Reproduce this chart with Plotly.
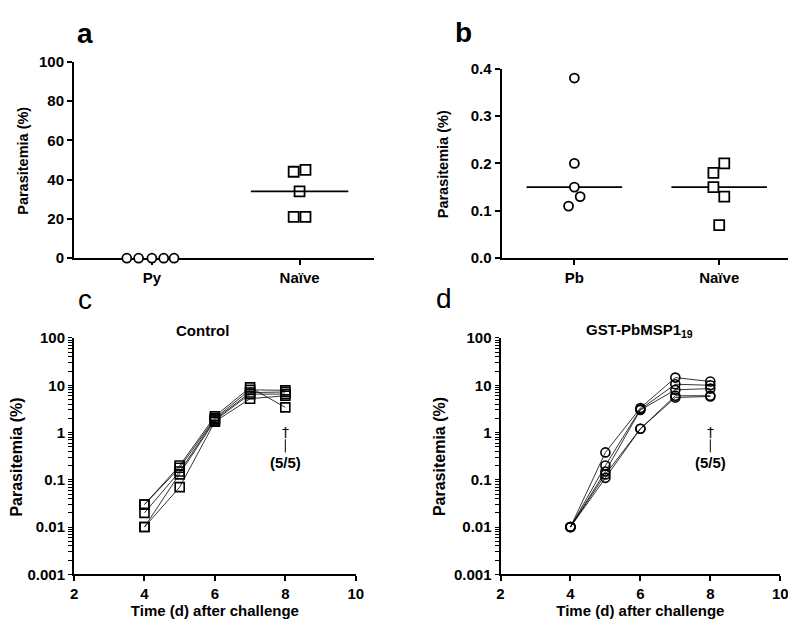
import plotly.graph_objects as go

# panel a: challenge with P. yoelii vs naive
a_groups = ["Py", "Naïve"]
a_py = [0, 0, 0, 0, 0]
a_py_jitter = [-0.17, -0.09, 0.0, 0.08, 0.15]
a_naive = [44, 45, 34, 21, 21]
a_naive_jitter = [-0.04, 0.04, 0.0, -0.04, 0.04]
a_medians = [0, 34]

# panel b: challenge with P. berghei vs naive
b_groups = ["Pb", "Naïve"]
b_pb = [0.38, 0.20, 0.15, 0.13, 0.11]
b_pb_jitter = [0.0, 0.0, 0.0, 0.04, -0.04]
b_naive = [0.20, 0.18, 0.15, 0.13, 0.07]
b_naive_jitter = [0.035, -0.04, -0.04, 0.035, 0.0]
b_medians = [0.15, 0.15]

# panels c/d: individual mice over time
days = [4, 5, 6, 7, 8]
control_mice = [
    [0.03, 0.20, 2.2, 9.0, 3.4],
    [0.03, 0.18, 2.0, 8.0, 7.8],
    [0.02, 0.15, 1.9, 7.0, 7.2],
    [0.01, 0.13, 1.8, 6.5, 6.5],
    [0.01, 0.07, 1.7, 5.2, 6.0],
]
gst_mice = [
    [0.01, 0.38, 3.3, 14.5, 12.0],
    [0.01, 0.20, 3.1, 10.5, 10.0],
    [0.01, 0.15, 3.0, 8.0, 8.5],
    [0.01, 0.13, 1.2, 6.0, 6.0],
    [0.01, 0.11, 1.2, 5.5, 5.8],
]
log_major = [0.001, 0.01, 0.1, 1, 10, 100]
log_major_text = ["0.001", "0.01", "0.1", "1", "10", "100"]
log_minor = [d * 10 ** k for k in range(-3, 2) for d in range(2, 10)]

FONT = "Liberation Sans"
W, H = 796, 622
half_w = 0.33


def px_x(p):
    return p / W


def px_y(p):
    return 1 - p / H


fig = go.Figure()

# filled white markers for the dot plots (they hide the axis line, as in the original)
circle_w = dict(symbol="circle", color="white", size=9, line=dict(width=1.8, color="black"))
square_w = dict(symbol="square", color="white", size=10, line=dict(width=1.8, color="black"))
# open markers for the time courses (lines show through)
square_o = dict(symbol="square-open", color="black", size=9, line=dict(width=1.6))
circle_o = dict(symbol="circle-open", color="black", size=9, line=dict(width=1.6))

# ---- panel a
fig.add_trace(go.Scatter(x=[0 + j for j in a_py_jitter], y=a_py, mode="markers",
                         marker=circle_w, cliponaxis=False, xaxis="x", yaxis="y"))
fig.add_trace(go.Scatter(x=[1 + j for j in a_naive_jitter], y=a_naive, mode="markers",
                         marker=square_w, cliponaxis=False, xaxis="x", yaxis="y"))
fig.add_trace(go.Scatter(x=[1 - half_w, 1 + half_w], y=[a_medians[1]] * 2, mode="lines",
                         line=dict(color="black", width=1.6), xaxis="x", yaxis="y"))

# ---- panel b
for i, m in enumerate(b_medians):
    fig.add_trace(go.Scatter(x=[i - half_w, i + half_w], y=[m, m], mode="lines",
                             line=dict(color="black", width=1.6), xaxis="x2", yaxis="y2"))
fig.add_trace(go.Scatter(x=[0 + j for j in b_pb_jitter], y=b_pb, mode="markers",
                         marker=circle_w, cliponaxis=False, xaxis="x2", yaxis="y2"))
fig.add_trace(go.Scatter(x=[1 + j for j in b_naive_jitter], y=b_naive, mode="markers",
                         marker=square_w, cliponaxis=False, xaxis="x2", yaxis="y2"))

# ---- panels c and d
for mice, mk, xa, ya in [(control_mice, square_o, "x3", "y3"), (gst_mice, circle_o, "x4", "y4")]:
    for vals in mice:
        fig.add_trace(go.Scatter(x=days, y=vals, mode="lines+markers",
                                 line=dict(color="black", width=0.8), marker=mk,
                                 cliponaxis=False, xaxis=xa, yaxis=ya))

tickfont = dict(family=FONT, size=15, color="black", weight="bold")
axis_common = dict(showline=True, linecolor="black", linewidth=2, ticks="outside",
                   tickwidth=2, ticklen=5, tickcolor="black", showgrid=False,
                   zeroline=False, tickfont=tickfont, fixedrange=True)
# log axes: labelled decades plus unlabelled 2..9 ticks in every decade
log_axis = dict(axis_common, type="log", range=[-3, 2],
                tickvals=log_major + log_minor,
                ticktext=log_major_text + [""] * len(log_minor),
                ticklen=4, tickwidth=1.2)
xtitle = dict(text="Time (d) after challenge",
              font=dict(family=FONT, size=15, color="black", weight="bold"), standoff=4)

ydom_cd = [px_y(573), px_y(330)]

fig.update_layout(
    width=W, height=H, showlegend=False,
    margin=dict(l=0, r=0, t=0, b=0),
    plot_bgcolor="white", paper_bgcolor="white",
    xaxis=dict(axis_common, domain=[px_x(63), px_x(368)], range=[-0.527, 1.507],
               tickvals=[0, 1], ticktext=a_groups, anchor="y", layer="below traces"),
    yaxis=dict(axis_common, domain=[px_y(248), px_y(46)], range=[0, 100],
               tickvals=[0, 20, 40, 60, 80, 100], anchor="x"),
    xaxis2=dict(axis_common, domain=[px_x(497), px_x(792)], range=[-0.503, 1.503],
                tickvals=[0, 1], ticktext=b_groups, anchor="y2", layer="below traces"),
    yaxis2=dict(axis_common, domain=[px_y(248), px_y(53)], range=[0, 0.4],
                tickvals=[0, 0.1, 0.2, 0.3, 0.4], tickformat=".1f", anchor="x2"),
    xaxis3=dict(axis_common, domain=[px_x(63), px_x(349)], range=[2, 10],
                tickvals=[2, 4, 6, 8, 10], anchor="y3", title=xtitle),
    yaxis3=dict(log_axis, domain=ydom_cd, anchor="x3"),
    xaxis4=dict(axis_common, domain=[px_x(496), px_x(780)], range=[2, 10],
                tickvals=[2, 4, 6, 8, 10], anchor="y4", title=xtitle),
    yaxis4=dict(log_axis, domain=ydom_cd, anchor="x4"),
)

letter_b = dict(family=FONT, size=28, color="black", weight="bold")
letter_r = dict(family=FONT, size=28, color="black")
sub = dict(family=FONT, size=15, color="black", weight="bold")
ytitle_ab = dict(family=FONT, size=14.5, color="black", weight="bold")
ytitle_cd = dict(family=FONT, size=16, color="black", weight="bold")
annots = [
    dict(text="a", x=px_x(74), y=px_y(17), font=letter_b),
    dict(text="b", x=px_x(458), y=px_y(16), font=letter_b),
    dict(text="c", x=px_x(74), y=px_y(290), font=letter_r),
    dict(text="d", x=px_x(439), y=px_y(289), font=letter_r),
    dict(text="Control", x=px_x(193), y=px_y(322), font=sub),
    dict(text="GST-PbMSP1<sub>19</sub>", x=px_x(637), y=px_y(322), font=sub),
    dict(text="Parasitemia (%)", x=px_x(11), y=px_y(148), font=ytitle_ab, textangle=-90),
    dict(text="Parasitemia (%)", x=px_x(437), y=px_y(151), font=ytitle_ab, textangle=-90),
    dict(text="Parasitemia (%)", x=px_x(5), y=px_y(452), font=ytitle_cd, textangle=-90),
    dict(text="Parasitemia (%)", x=px_x(434), y=px_y(452), font=ytitle_cd, textangle=-90),
]
for a in annots:
    a.update(xref="paper", yref="paper", showarrow=False, xanchor="center", yanchor="middle")

shapes = []
for xa, ya in [("x3", "y3"), ("x4", "y4")]:
    # dagger (deaths) with its long stem, then the count
    annots.append(dict(text="†", x=8, y=0.02, xref=xa, yref=ya, showarrow=False,
                       font=dict(family="DejaVu Sans", size=14, color="black")))
    shapes.append(dict(type="line", xref=xa, yref=ya, x0=8, x1=8, y0=0.38, y1=0.72,
                       line=dict(color="black", width=1)))
    annots.append(dict(text="(5/5)", x=8, y=-0.64, xref=xa, yref=ya, showarrow=False,
                       font=sub))
fig.update_layout(annotations=annots, shapes=shapes)

fig.write_html("out.html")
